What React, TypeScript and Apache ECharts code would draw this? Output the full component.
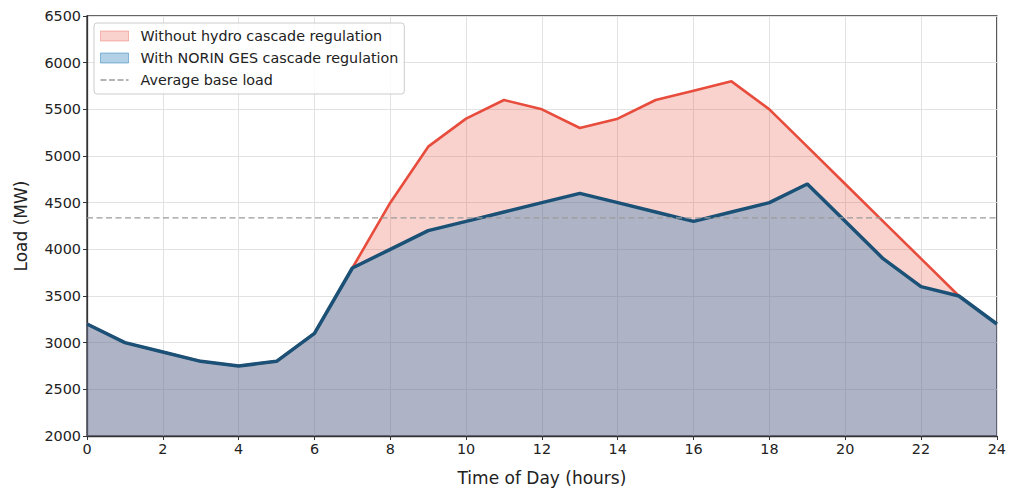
import React, { useEffect, useRef } from "react";
import * as echarts from "echarts";

const hours = [0, 1, 2, 3, 4, 5, 6, 7, 8, 9, 10, 11, 12, 13, 14, 15, 16, 17, 18, 19, 20, 21, 22, 23, 24];
const withoutRegulation = [3200, 3000, 2900, 2800, 2750, 2800, 3100, 3800, 4500, 5100, 5400, 5600, 5500, 5300, 5400, 5600, 5700, 5800, 5500, 5100, 4700, 4300, 3900, 3500, 3200];
const withRegulation = [3200, 3000, 2900, 2800, 2750, 2800, 3100, 3800, 4000, 4200, 4300, 4400, 4500, 4600, 4500, 4400, 4300, 4400, 4500, 4700, 4300, 3900, 3600, 3500, 3200];
const seriesNames = ["Without hydro cascade regulation", "With NORIN GES cascade regulation", "Average base load"];
const averageBaseLoad = withoutRegulation.reduce((a, b) => a + b, 0) / withoutRegulation.length;

const FONT = "DejaVu Sans";

export default function App() {
  const ref = useRef<HTMLDivElement>(null);
  useEffect(() => {
    if (!ref.current) return;
    const chart = echarts.init(ref.current, undefined, { renderer: "svg" });
    const pair = (arr: number[]) => hours.map((h, i) => [h, arr[i]]);
    chart.setOption({
      animation: false,
      backgroundColor: "#ffffff",
      textStyle: { fontFamily: FONT },
      grid: {
        left: 87,
        right: 11,
        top: 16,
        bottom: 55,
        show: true,
        borderColor: "#333333",
        borderWidth: 1.3,
        backgroundColor: "transparent",
      },
      legend: {
        orient: "vertical",
        left: 94,
        top: 23,
        padding: [5, 6, 6, 6],
        itemGap: 6,
        itemWidth: 28,
        itemHeight: 10,
        backgroundColor: "rgba(255,255,255,0.85)",
        borderColor: "#cccccc",
        borderWidth: 1,
        borderRadius: 3,
        selectedMode: false,
        textStyle: { fontFamily: FONT, fontSize: 14.3, color: "#222222", lineHeight: 16, padding: [0, 0, 0, 7] },
        data: [
          {
            name: seriesNames[0],
            icon: "rect",
            itemStyle: { color: "rgba(231,76,60,0.25)", borderColor: "rgba(231,76,60,0.35)", borderWidth: 1 },
          },
          {
            name: seriesNames[1],
            icon: "rect",
            itemStyle: { color: "rgba(41,128,185,0.36)", borderColor: "rgba(41,128,185,0.5)", borderWidth: 1 },
          },
          {
            name: seriesNames[2],
            icon: "path://M0,0h6v1.4h-6zM8.5,0h6v1.4h-6zM17,0h6v1.4h-6zM25.5,0h2.5v1.4h-2.5z",
            itemStyle: { color: "#9a9a9a", borderWidth: 0 },
          },
        ],
      },
      xAxis: {
        type: "value",
        min: 0,
        max: 24,
        interval: 2,
        name: "Time of Day (hours)",
        nameLocation: "middle",
        nameGap: 33,
        nameTextStyle: { fontFamily: FONT, fontSize: 17, color: "#222222" },
        axisLine: { show: true, lineStyle: { color: "#333333", width: 1.3 } },
        axisTick: { show: true, length: 4, lineStyle: { color: "#333333" } },
        axisLabel: { fontFamily: FONT, fontSize: 14.4, color: "#222222", margin: 6 },
        splitLine: { show: true, lineStyle: { color: "#e2e2e2", width: 1 } },
      },
      yAxis: {
        type: "value",
        min: 2000,
        max: 6500,
        interval: 500,
        name: "Load (MW)",
        nameLocation: "middle",
        nameGap: 58,
        nameTextStyle: { fontFamily: FONT, fontSize: 17, color: "#222222" },
        axisLine: { show: true, lineStyle: { color: "#333333", width: 1.3 } },
        axisTick: { show: true, length: 4, lineStyle: { color: "#333333" } },
        axisLabel: { fontFamily: FONT, fontSize: 14.4, color: "#222222", margin: 6, formatter: (v: number) => String(v) },
        splitLine: { show: true, lineStyle: { color: "#e2e2e2", width: 1 } },
      },
      series: [
        {
          name: seriesNames[0],
          type: "line",
          data: pair(withoutRegulation),
          symbol: "none",
          lineStyle: { color: "#e74c3c", width: 2.6 },
          itemStyle: { color: "#e74c3c" },
          areaStyle: { color: "#e74c3c", opacity: 0.25, origin: "start" },
          z: 2,
        },
        {
          name: seriesNames[1],
          type: "line",
          data: pair(withRegulation),
          symbol: "none",
          lineStyle: { color: "#1b5176", width: 3.5 },
          itemStyle: { color: "#1b5176" },
          areaStyle: { color: "#2980b9", opacity: 0.36, origin: "start" },
          z: 3,
        },
        {
          name: seriesNames[2],
          type: "line",
          data: [[hours[0], averageBaseLoad], [hours[hours.length - 1], averageBaseLoad]],
          symbol: "none",
          lineStyle: { color: "#9a9a9a", width: 1.3, type: [6, 3.5] },
          itemStyle: { color: "#9a9a9a" },
          z: 4,
        },
      ],
    });
    return () => chart.dispose();
  }, []);
  return <div ref={ref} style={{ position: "fixed", left: 0, top: 0, width: 1009, height: 491 }} />;
}
